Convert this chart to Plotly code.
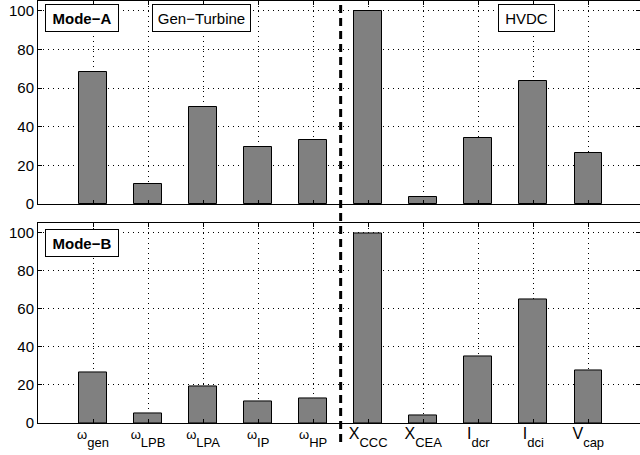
import plotly.graph_objects as go

categories = [1, 2, 3, 4, 5, 6, 7, 8, 9, 10]
main_syms = ["ω", "ω", "ω", "ω", "ω", "X", "X", "I", "I", "V"]
sub_syms = ["gen", "LPB", "LPA", "IP", "HP", "CCC", "CEA", "dcr", "dci", "cap"]
mode_a = [68.1, 10.5, 50.2, 29.6, 33.0, 100.0, 3.8, 34.3, 63.8, 26.4]
mode_b = [26.7, 4.8, 19.1, 11.5, 12.9, 100.0, 4.1, 34.8, 65.2, 27.4]
y_ticks = [0, 20, 40, 60, 80, 100]


def make_label(m, s):
    msize = 13 if m == "ω" else 16
    return (f"<sup><span style='font-size:{msize}px'>{m}</span></sup>"
            f"<span style='font-size:13px'>{s}</span>")


tick_labels = [make_label(m, s) for m, s in zip(main_syms, sub_syms)]

W, H = 640, 455
ML, MR, MT, MB = 38.3, 0, 1, 32.3
PW = W - ML - MR
PH = H - MT - MB


def px(x):
    return (x - ML) / PW


def py(y):
    return 1 - (y - MT) / PH


fig = go.Figure()
bar_style = dict(marker=dict(color="#808080", line=dict(color="black", width=1)),
                 width=0.5, showlegend=False, hoverinfo="skip")
fig.add_trace(go.Bar(x=categories, y=mode_a, xaxis="x", yaxis="y", **bar_style))
fig.add_trace(go.Bar(x=categories, y=mode_b, xaxis="x2", yaxis="y2", **bar_style))

axis_common = dict(showline=True, linecolor="black", linewidth=1, mirror="ticks",
                   ticks="inside", ticklen=4, tickcolor="black", automargin=False,
                   showgrid=True, gridcolor="black", gridwidth=1, griddash="1px,4px",
                   zeroline=False)
xr = [0, (W - ML) / 55.0]
fig.update_layout(
    width=W, height=H,
    margin=dict(l=ML, r=MR, t=MT, b=MB, pad=0, autoexpand=False),
    paper_bgcolor="white", plot_bgcolor="white",
    font=dict(family="Liberation Sans, Arial, Helvetica, sans-serif", size=15, color="black"),
    bargap=0,
    xaxis=dict(domain=[0, 1], anchor="y", range=xr, tickvals=categories,
               showticklabels=False, **axis_common),
    xaxis2=dict(domain=[0, 1], anchor="y2", range=xr, tickvals=categories,
                ticktext=tick_labels, tickfont=dict(size=20), ticklabelstandoff=-1,
                **axis_common),
    yaxis=dict(domain=[py(204), 1], anchor="x", range=[0, 105], tickvals=y_ticks,
               tickfont=dict(size=15), **axis_common),
    yaxis2=dict(domain=[0, py(223.3)], anchor="x2", range=[0, 105], tickvals=y_ticks,
                tickfont=dict(size=15), **axis_common),
)

fig.add_shape(type="line", xref="x", yref="paper", x0=5.5, x1=5.5,
              y0=py(441.7), y1=1.0, line=dict(color="black", width=3, dash="8px,5px"))

box = dict(xref="paper", yref="paper", showarrow=False, bordercolor="black",
           borderwidth=1, bgcolor="white", borderpad=0, xanchor="center", yanchor="middle",
           height=26, font=dict(size=15, color="black"))
fig.add_annotation(text="<b>Mode−A</b>", x=px(82.2), y=py(18.2), width=72, **box)
fig.add_annotation(text="Gen−Turbine", x=px(201.4), y=py(18.2), width=97, **box)
fig.add_annotation(text="HVDC", x=px(526.4), y=py(18.2), width=55, **box)
fig.add_annotation(text="<b>Mode−B</b>", x=px(82.2), y=py(243.3), width=72, **box)

fig.write_html("out.html", config={"displayModeBar": False},
               post_script="document.body.style.margin='0';")
